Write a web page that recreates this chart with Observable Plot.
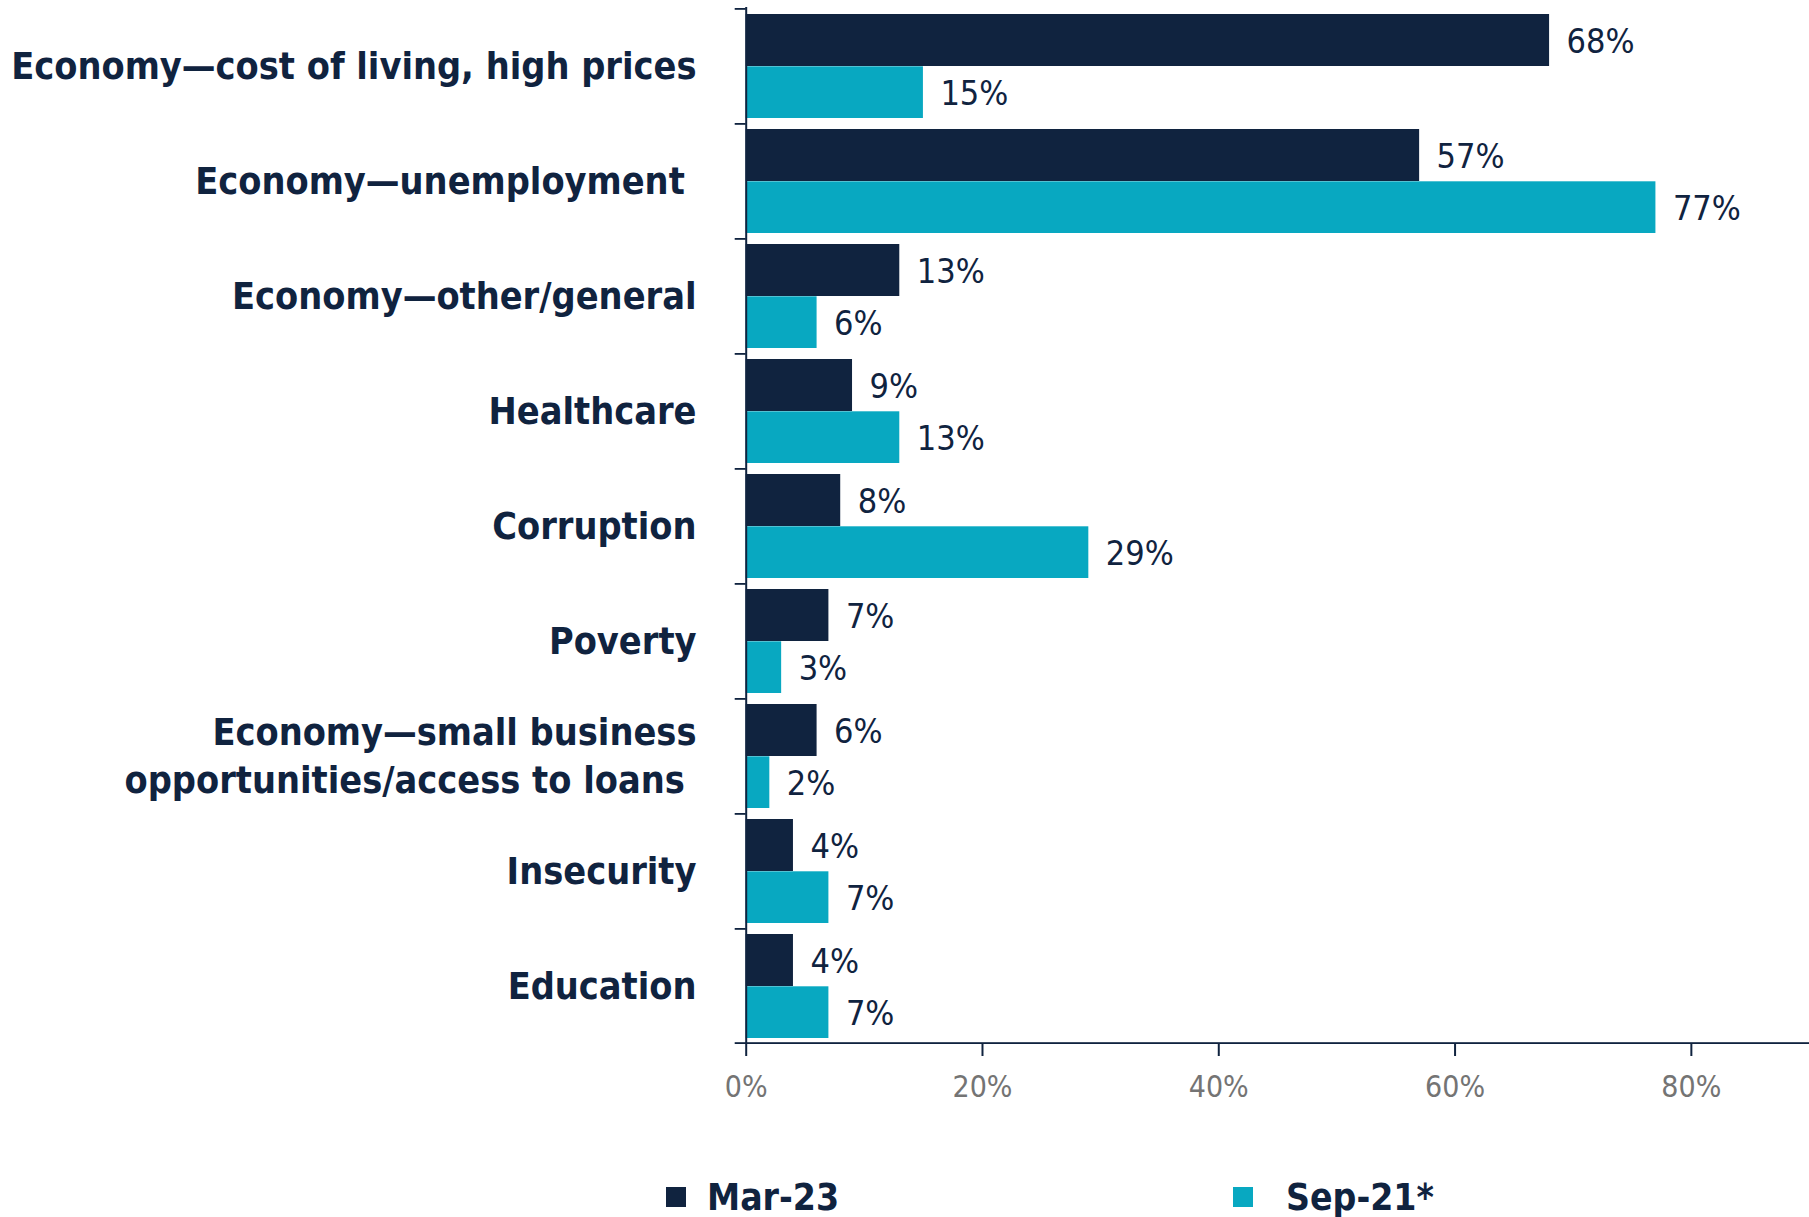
<!DOCTYPE html>
<html>
<head>
<meta charset="utf-8">
<script src="https://cdn.jsdelivr.net/npm/d3@7"></script>
<script src="https://cdn.jsdelivr.net/npm/@observablehq/plot@0.6"></script>
<style>
  html, body { margin: 0; padding: 0; background: #ffffff; }
  #wrap { width: 1809px; height: 1217px; overflow: hidden; position: relative; }
  svg { display: block; }
</style>
</head>
<body>
<div id="wrap"></div>
<script>
// ---- data ----
const categories = [
  "Economy\u2014cost of living, high prices",
  "Economy\u2014unemployment\u00a0",
  "Economy\u2014other/general",
  "Healthcare",
  "Corruption",
  "Poverty",
  "Economy\u2014small business\nopportunities/access to loans\u00a0",
  "Insecurity",
  "Education"
];
const seriesNames = ["Mar-23", "Sep-21*"];
const mar23 = [68, 57, 13, 9, 8, 7, 6, 4, 4];
const sep21 = [15, 77, 6, 13, 29, 3, 2, 7, 7];
const xTicks = [0, 20, 40, 60, 80];
const xDomain = [0, 90];

// ---- styles ----
const navy = "#10233f";
const teal = "#08a8c1";
const gray = "#747474";
const colors = [navy, teal];
const font = "'DejaVu Sans Condensed', 'DejaVu Sans', sans-serif";

const rowsMar = categories.map((c, i) => ({category: c, series: seriesNames[0], value: mar23[i]}));
const rowsSep = categories.map((c, i) => ({category: c, series: seriesNames[1], value: sep21[i]}));

const chart = Plot.plot({
  width: 1809,
  height: 1130,
  marginTop: 7,
  marginBottom: 86,
  marginLeft: 745.7,
  marginRight: 0,
  style: {fontFamily: font, background: "#ffffff", overflow: "visible"},
  x: {domain: xDomain, label: null},
  y: {type: "band", domain: categories, padding: 0, axis: null, label: null},
  marks: [
    Plot.barX(rowsMar, {x: "value", y: "category", fill: colors[0], insetTop: 6, insetBottom: 57}),
    Plot.barX(rowsSep, {x: "value", y: "category", fill: colors[1], insetTop: 58.3, insetBottom: 5}),
    // vertical axis line
    Plot.ruleX([0], {stroke: navy, strokeWidth: 2}),
    // category boundary ticks (left of axis)
    Plot.barX(categories, {x1: 0, x2: 0, y: d => d, insetLeft: -11, insetBottom: 113.2, fill: navy}),
    // horizontal axis line (bottom)
    Plot.barX([categories[categories.length - 1]], {x1: 0, x2: xDomain[1], y: d => d, insetLeft: -11, insetTop: 114.2, insetBottom: -1, fill: navy}),
    // x ticks
    Plot.axisX(xTicks, {tickSize: 12, strokeWidth: 2, color: navy, tickFormat: () => "", label: null}),
    Plot.axisX(xTicks, {tickSize: 0, tickPadding: 31, color: gray, fontSize: 30, tickFormat: d => d + "%", fontFamily: font, label: null}),
    // value labels
    Plot.text(rowsMar, {x: "value", y: "category", text: d => d.value + "%", dx: 17, dy: -24, textAnchor: "start", fill: navy, fontSize: 34, fontFamily: font}),
    Plot.text(rowsSep, {x: "value", y: "category", text: d => d.value + "%", dx: 17, dy: 28, textAnchor: "start", fill: navy, fontSize: 34, fontFamily: font}),
    // category labels
    Plot.text(categories, {x: 0, y: d => d, text: d => d, dx: -49.7, dy: -2.5, textAnchor: "end", fill: navy, fontSize: 37.5, fontWeight: "bold", lineHeight: 1.29, fontFamily: font})
  ]
});

document.getElementById("wrap").appendChild(chart);

// ---- legend below ----
const legendX = [666, 1233];
const legendTextX = [707, 1286];
const legend = d3.create("svg").attr("width", 1809).attr("height", 87).style("font-family", font);
seriesNames.forEach((name, i) => {
  legend.append("rect").attr("x", legendX[i]).attr("y", 57).attr("width", 20).attr("height", 20).attr("fill", colors[i]);
  legend.append("text").attr("x", legendTextX[i]).attr("y", 80).attr("font-size", 37).attr("font-weight", "bold").attr("fill", navy).text(name);
});
document.getElementById("wrap").appendChild(legend.node());
</script>
</body>
</html>
